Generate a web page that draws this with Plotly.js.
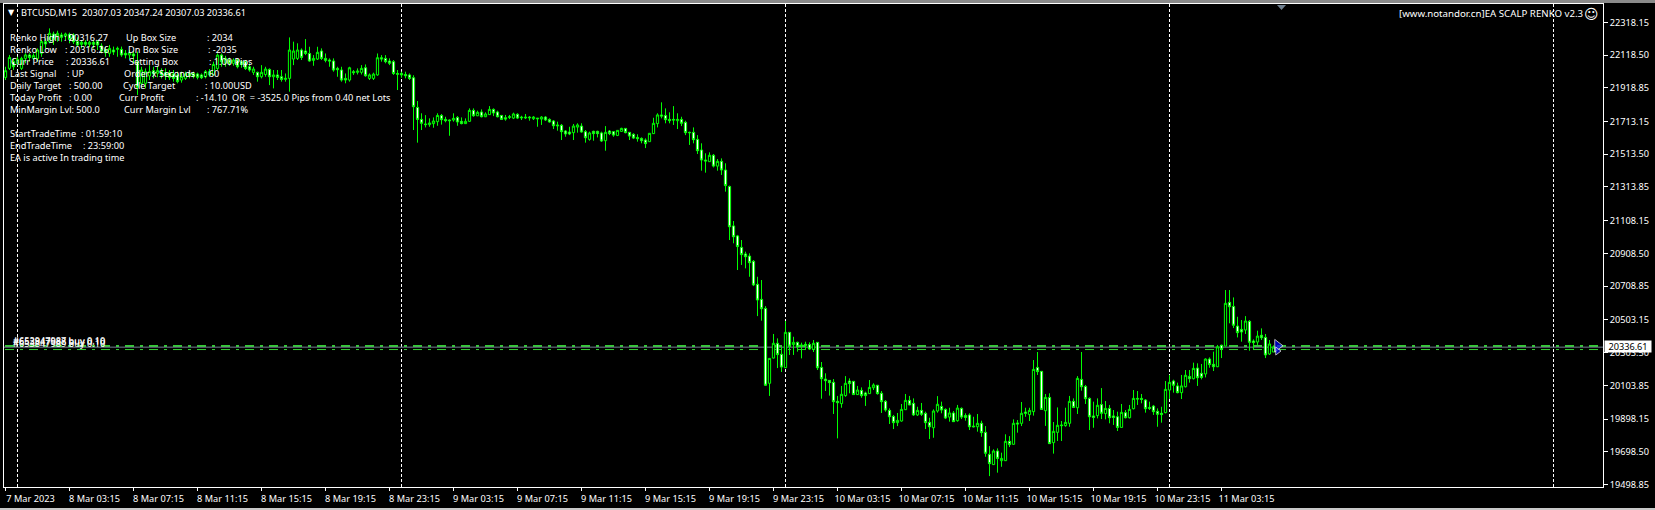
<!DOCTYPE html>
<html><head><meta charset="utf-8">
<script src="https://cdn.plot.ly/plotly-3.0.1.min.js"></script>
<style>html,body{margin:0;padding:0;background:#000;overflow:hidden}#c{width:1655px;height:510px}</style>
</head><body><div id="c"></div>
<script>
const opens=[
21982,22037,22078,22068,22037,22098,22119,22098,22098,22129,
22200,22200,22247,22235,22241,22235,22245,22241,22200,22184,
22196,22184,22196,22200,22174,22149,22129,22149,22153,22153,
22129,22119,22125,22078,21946,21946,21991,22023,22007,22017,
22011,22011,22003,21997,21966,21976,21991,22007,22003,21997,
21986,21997,21997,22037,22118,22068,22088,22068,22088,22078,
22078,22047,22013,22013,21986,22000,22031,21986,21997,21986,
21970,21976,22094,22098,22149,22143,22128,22086,22094,22143,
22098,22088,22082,22037,22027,21976,21966,22017,22013,22013,
22041,21976,21976,21997,22102,22098,22082,22078,22006,22006,
22000,21997,21980,21799,21726,21698,21694,21700,21712,21750,
21726,21722,21722,21738,21714,21700,21714,21781,21748,21771,
21742,21755,21787,21771,21750,21736,21738,21734,21757,21740,
21740,21740,21730,21734,21728,21740,21726,21716,21692,21690,
21655,21649,21645,21679,21685,21651,21604,21653,21653,21643,
21596,21655,21651,21628,21653,21671,21647,21635,21616,21610,
21600,21590,21639,21700,21753,21750,21726,21726,21718,21726,
21708,21647,21647,21604,21539,21478,21468,21507,21441,21470,
21417,21317,21076,21015,20945,20905,20892,20860,20720,20628,
20573,20116,20270,20360,20293,20211,20427,20352,20366,20350,
20354,20352,20323,20366,20213,20142,20134,20122,20006,19992,
20041,20130,20128,20047,20073,20057,20053,20089,20104,20055,
20006,19951,19914,19876,19886,19955,20012,19994,19923,19951,
19933,19878,19845,19947,19975,19957,19910,19935,19888,19963,
19919,19923,19855,19851,19872,19817,19683,19620,19703,19644,
19644,19762,19744,19874,19872,19941,19925,19943,20213,20189,
19949,20030,19754,19817,19862,19858,19872,20006,19967,20140,
20097,20024,19917,19919,19986,19931,19963,19917,19912,19847,
19937,19906,19961,20024,20024,20014,19969,19977,19945,19933,
19937,20075,20130,20100,20059,20095,20158,20144,20209,20177,
20173,20264,20232,20217,20348,20343,20610,20585,20465,20445,
20441,20494,20374,20368,20409,20396,20295,20307.03];
const highs=[
22047,22119,22098,22108,22108,22129,22129,22129,22159,22210,
22220,22281,22261,22267,22255,22255,22255,22251,22227,22210,
22210,22206,22210,22210,22190,22170,22180,22170,22170,22170,
22149,22149,22139,22139,22047,22037,22057,22047,22047,22037,
22037,22027,22027,22017,22017,22017,22017,22017,22011,22006,
22027,22033,22078,22128,22128,22114,22102,22098,22098,22088,
22088,22068,22047,22017,22057,22047,22037,22027,22027,22027,
22006,22226,22200,22190,22159,22216,22169,22118,22169,22159,
22128,22098,22098,22047,22047,22006,22047,22027,22037,22057,
22061,22006,22011,22128,22118,22118,22098,22088,22027,22017,
22017,22006,21995,21838,21763,21752,21732,21738,21763,21759,
21742,21726,21763,21746,21738,21732,21793,21793,21779,21787,
21769,21807,21793,21779,21753,21753,21753,21767,21763,21748,
21759,21746,21746,21734,21746,21746,21732,21722,21712,21698,
21661,21681,21698,21702,21702,21661,21651,21657,21657,21651,
21685,21661,21655,21661,21675,21671,21647,21641,21635,21616,
21610,21641,21736,21763,21830,21793,21769,21807,21763,21742,
21718,21651,21677,21630,21580,21519,21525,21515,21484,21488,
21458,21322,21106,21021,20990,20919,20909,20868,20766,20746,
20587,20268,20417,20390,20339,20496,20427,20400,20370,20364,
20370,20366,20380,20368,20246,20177,20136,20142,20039,20100,
20160,20146,20130,20100,20091,20065,20136,20116,20106,20069,
20014,19963,19923,19935,19990,20051,20039,20024,19973,19996,
19943,19906,19957,20038,20004,19963,19967,19947,19984,19969,
19933,19933,19912,19929,19888,19855,19733,19713,19719,19693,
19805,19794,19896,19892,20002,19967,19967,20258,20307,20189,
20051,20055,19880,19969,19886,19967,20039,20024,20160,20307,
20106,20030,20004,20024,20087,20008,19984,19953,19943,19990,
19953,19984,20075,20069,20051,20020,20004,19984,19963,19973,
20130,20167,20138,20120,20167,20197,20197,20242,20238,20234,
20268,20274,20309,20350,20352,20685,20685,20640,20522,20502,
20526,20502,20384,20437,20451,20417,20380,20347.24];
const lows=[
21966,22027,22027,22057,22027,22068,22078,22088,22078,22108,
22159,22190,22180,22200,22200,22210,22190,22186,22170,22159,
22170,22166,22159,22149,22129,22108,22108,22119,22108,22108,
22098,22092,22068,21875,21915,21915,21966,21976,21983,21976,
21966,21966,21956,21946,21950,21966,21976,21976,21970,21972,
21976,21986,21997,22027,22047,22047,22053,22053,22037,22041,
22027,22017,21997,21956,21976,21986,21935,21915,21966,21956,
21956,21895,22057,22088,22088,22118,22078,22053,22088,22088,
22074,22047,22017,21986,21956,21946,21956,21997,22000,22000,
21986,21966,21966,21992,22078,22068,22057,21997,21905,21980,
21976,21966,21661,21584,21661,21677,21681,21675,21687,21694,
21708,21626,21712,21687,21696,21698,21710,21742,21746,21738,
21740,21753,21746,21738,21722,21718,21728,21728,21728,21722,
21728,21718,21722,21681,21692,21716,21706,21667,21657,21600,
21620,21630,21600,21645,21645,21584,21596,21596,21616,21588,
21535,21630,21620,21624,21649,21641,21600,21606,21590,21580,
21551,21590,21637,21677,21732,21702,21702,21692,21667,21685,
21630,21570,21580,21515,21413,21401,21468,21433,21413,21387,
21285,20990,20970,20807,20838,20817,20766,20709,20526,20498,
20100,20039,20268,20209,20185,20215,20289,20289,20309,20268,
20319,20319,20307,20197,20022,20069,20041,19929,19780,19967,
20034,20055,20045,20045,20028,19978,20051,20075,20047,19935,
19943,19868,19837,19855,19882,19953,19982,19917,19917,19917,
19837,19776,19784,19937,19933,19898,19882,19880,19882,19898,
19888,19831,19847,19821,19790,19668,19550,19618,19571,19607,
19642,19727,19742,19815,19855,19912,19886,19919,20167,19957,
19856,19746,19687,19764,19764,19851,19851,19965,19929,20071,
19990,19831,19845,19902,19898,19896,19872,19862,19825,19845,
19902,19902,19957,19984,19994,19937,19953,19923,19851,19876,
19933,20020,20059,20055,20020,20091,20120,20140,20100,20140,
20152,20211,20191,20215,20270,20343,20482,20453,20396,20370,
20417,20315,20323,20350,20380,20270,20289,20307.03];
const closes=[
22023,22104,22047,22092,22098,22119,22104,22115,22149,22200,
22186,22251,22214,22251,22227,22247,22214,22200,22180,22196,
22184,22196,22184,22180,22145,22133,22159,22137,22159,22119,
22119,22133,22113,21922,22027,22017,22017,22003,22023,21997,
21991,21983,21976,21956,21987,22003,22007,21987,21983,21980,
22017,22017,22061,22118,22078,22098,22068,22088,22047,22061,
22037,22027,22033,21986,22013,22033,21986,21997,21982,21970,
21976,22149,22143,22149,22104,22128,22082,22098,22135,22098,
22086,22082,22027,22029,21966,21966,22041,22011,22021,22037,
21992,21997,22002,22102,22094,22078,22068,22006,22002,21997,
21992,21976,21803,21726,21702,21694,21704,21716,21750,21724,
21718,21718,21732,21710,21700,21714,21781,21748,21769,21742,
21759,21787,21765,21742,21726,21728,21742,21759,21734,21736,
21736,21736,21740,21730,21740,21722,21710,21687,21687,21651,
21637,21637,21685,21692,21649,21614,21643,21639,21639,21594,
21647,21639,21630,21659,21671,21645,21624,21612,21608,21596,
21578,21641,21702,21753,21746,21724,21718,21722,21726,21702,
21645,21645,21602,21535,21478,21472,21507,21441,21470,21417,
21322,21071,21010,20950,20901,20888,20852,20716,20624,20571,
20104,20268,20360,20291,20215,20427,20343,20366,20339,20346,
20348,20325,20360,20211,20144,20132,20120,20004,19998,20049,
20116,20114,20047,20075,20041,20041,20091,20106,20053,20004,
19953,19912,19876,19890,19957,20012,19984,19923,19951,19927,
19876,19851,19947,19988,19953,19904,19935,19882,19965,19910,
19908,19851,19851,19872,19815,19689,19626,19703,19658,19658,
19762,19742,19872,19868,19933,19933,19951,20201,20187,19957,
20030,19748,19823,19860,19858,19878,20006,19969,20146,20095,
20022,19912,19908,19982,19933,19963,19906,19908,19847,19939,
19906,19957,20024,20020,20018,19961,19963,19943,19927,19925,
20079,20122,20104,20059,20100,20165,20144,20207,20150,20152,
20264,20230,20217,20339,20323,20604,20583,20470,20425,20429,
20496,20366,20364,20404,20394,20289,20356,20336.61];
const barIndex=opens.map((_,i)=>i);

const priceTicks=[22318.15,22118.50,21918.85,21713.15,21513.50,21313.85,21108.15,20908.50,20708.85,20503.15,20303.50,20103.85,19898.15,19698.50,19498.85];
const timeTickBars=[0,16,32,48,64,80,96,112,128,144,160,176,192,208,224,240,256,272,288,304];
const timeTickLabels=["7 Mar 2023","8 Mar 03:15","8 Mar 07:15","8 Mar 11:15","8 Mar 15:15","8 Mar 19:15","8 Mar 23:15","9 Mar 03:15","9 Mar 07:15","9 Mar 11:15","9 Mar 15:15","9 Mar 19:15","9 Mar 23:15","10 Mar 03:15","10 Mar 07:15","10 Mar 11:15","10 Mar 15:15","10 Mar 19:15","10 Mar 23:15","11 Mar 03:15"];
const dayDividers=[3,99,195,291,387];
const lastPrice=20336.61;
const orderLevels=[20344,20322];
const arrowBars=[318,318];
const arrowPrices=[20345,20313];

const FONT='"Noto Sans",sans-serif';
const FS=9.2;
const W=1655,H=510,L=4,R=52,T=4,B=23;
const px=x=>(x-L)/(W-L-R), py=y=>1-(y-T)/(H-T-B);

const overlay=[
["Renko High",9,37.7],[": 20316.27",63,37.7],["Up Box Size",125,37.7],[": 2034",206,37.7],
["Renko Low",9,49.7],[": 20316.26",64,49.7],["Dn Box Size",127,49.7],[": -2035",207,49.7],
["Curr Price",10,61.7],[": 20336.61",65,61.7],["Setting Box",128,61.7],[": 1.00 Pips",208,61.7],
["Last Signal",9,73.7],[": UP",66,73.7],["Order x Seconds",123,73.7],[": 60",203,73.7],
["Daily Target",9,85.7],[": 500.00",68,85.7],["Cycle Target",122,85.7],[": 10.00USD",204,85.7],
["Today Profit",9,97.7],[": 0.00",68,97.7],["Curr Profit",118,97.7],[": -14.10  OR  = -3525.0 Pips from 0.40 net Lots",195,97.7],
["MinMargin Lvl: 500.0",9,109.7],["Curr Margin Lvl",123,109.7],[": 767.71%",206,109.7],
["StartTradeTime",9,133.7],[": 01:59:10",80,133.7],
["EndTradeTime",9,145.7],[": 23:59:00",82,145.7],
["EA is active In trading time",9,157.7],
["BTCUSD,M15  20307.03 20347.24 20307.03 20336.61",20,12.5],
["#652947987 buy 0.10",12,340.5],["#653847988 buy 0.10",12,341],["#653847989 buy 0.10",12,343]
];
const annotations=overlay.map(([text,x,y])=>({text,xref:'paper',yref:'paper',x:px(x),y:py(y),xanchor:'left',yanchor:'middle',showarrow:false,borderpad:0,font:{family:FONT,size:FS,color:'#fff'}}));
annotations.push({text:"[www.notandor.cn]EA SCALP RENKO v2.3",xref:'paper',yref:'paper',x:px(1584),y:py(13.5),xanchor:'right',yanchor:'middle',showarrow:false,borderpad:0,font:{family:FONT,size:9.7,color:'#fff'}});
annotations.push({text:"☺",xref:'paper',yref:'paper',x:px(1591.5),y:py(13.5),xanchor:'center',yanchor:'middle',showarrow:false,borderpad:0,font:{family:'"DejaVu Sans"',size:14,color:'#fff'}});
annotations.push({text:"▼",xref:'paper',yref:'paper',x:px(11),y:py(12.5),xanchor:'center',yanchor:'middle',showarrow:false,borderpad:0,font:{family:'"DejaVu Sans"',size:8,color:'#fff'}});
annotations.push({text:lastPrice.toFixed(2),xref:'paper',yref:'paper',x:px(1604),y:py(346.5),xanchor:'left',yanchor:'middle',showarrow:false,borderpad:0,width:46,height:11,align:'center',bgcolor:'#fff',font:{family:FONT,size:FS,color:'#000'}});

const dash="9px,6px,3px,6px";
const shapes=[];
dayDividers.forEach(d=>shapes.push({type:'line',layer:'below',xref:'x',yref:'paper',x0:d,x1:d,y0:0,y1:1,line:{color:'#fff',width:1,dash:'3px,2px'}}));
shapes.push({type:'line',layer:'below',xref:'paper',yref:'y',x0:px(5),x1:1,y0:orderLevels[0],y1:orderLevels[0],line:{color:'#32cd32',width:2,dash}});
shapes.push({type:'line',layer:'below',xref:'paper',yref:'y',x0:px(5),x1:1,y0:orderLevels[1],y1:orderLevels[1],line:{color:'#32cd32',width:1,dash}});
shapes.push({type:'line',layer:'below',xref:'paper',yref:'y',x0:0,x1:1,y0:lastPrice,y1:lastPrice,line:{color:'#708090',width:1}});
// window chrome
shapes.push({type:'rect',layer:'above',xref:'paper',yref:'paper',x0:px(0),x1:px(W),y0:py(0),y1:py(3),line:{width:0},fillcolor:'#8a8a8a'});
shapes.push({type:'rect',layer:'above',xref:'paper',yref:'paper',x0:px(0),x1:px(W),y0:py(508),y1:py(510),line:{width:0},fillcolor:'#c8c8c8'});
// chart shift marker
shapes.push({type:'path',layer:'above',xref:'paper',yref:'paper',path:`M ${px(1277)} ${py(5)} L ${px(1286)} ${py(5)} L ${px(1281.5)} ${py(10)} Z`,line:{width:0},fillcolor:'#708090'});

const traces=[{
 type:'candlestick',x:barIndex,open:opens,high:highs,low:lows,close:closes,
 increasing:{line:{color:'#00ff00',width:1},fillcolor:'#000'},
 decreasing:{line:{color:'#00ff00',width:1},fillcolor:'#fff'},
 whiskerwidth:0,hoverinfo:'skip',showlegend:false
},{
 type:'scatter',mode:'markers',x:arrowBars,y:arrowPrices,hoverinfo:'skip',showlegend:false,
 marker:{symbol:'triangle-right',size:[11,7],color:'#0000ff',line:{color:'#fff',width:1}}
}];
const axisFont={family:FONT,size:FS,color:'#fff'};
const layout={
 width:W,height:H,margin:{l:L,r:R,t:T,b:B,pad:0},paper_bgcolor:'#000',plot_bgcolor:'#000',showlegend:false,boxgap:0.2,
 xaxis:{type:'linear',range:[-0.375,399.375],rangeslider:{visible:false},showgrid:false,zeroline:false,showline:true,linecolor:'#fff',linewidth:1,mirror:true,
  tickmode:'array',tickvals:timeTickBars,ticktext:timeTickLabels,ticks:'outside',ticklen:3,tickcolor:'#fff',tickfont:axisFont,ticklabelshift:25,ticklabelstandoff:0},
 yaxis:{side:'right',range:[19483.5,22429.8],showgrid:false,zeroline:false,showline:true,linecolor:'#fff',linewidth:1,mirror:true,
  tickmode:'array',tickvals:priceTicks,ticktext:priceTicks.map(v=>v.toFixed(2)),ticks:'outside',ticklen:4,tickcolor:'#fff',tickfont:axisFont},
 annotations,shapes
};
Plotly.newPlot('c',traces,layout,{displayModeBar:false,staticPlot:true});
</script></body></html>
